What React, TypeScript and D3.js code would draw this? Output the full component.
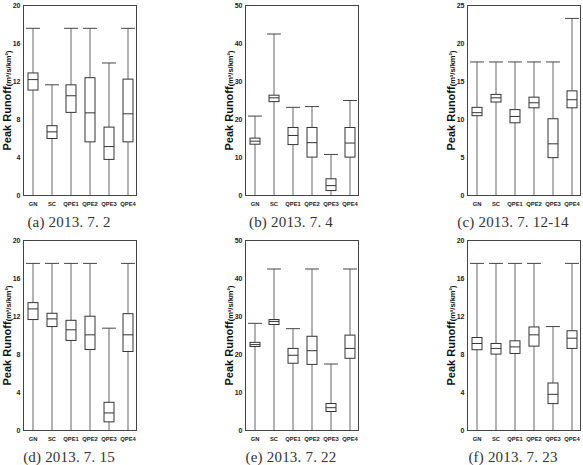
import React from 'react'
import * as d3 from 'd3'

// box stats per category: [low, q1, median, q3, high]
const categories = ['GN', 'SC', 'QPE1', 'QPE2', 'QPE3', 'QPE4']

const statsA = [[0, 11.1, 12.2, 12.9, 17.6], [0, 6.0, 6.7, 7.35, 11.65], [0, 8.75, 10.5, 11.65, 17.6],
  [0, 5.65, 8.7, 12.4, 17.6], [0, 3.8, 5.15, 7.2, 13.95], [0, 5.65, 8.6, 12.25, 17.6]]
const statsB = [[0, 13.5, 14.3, 15.1, 20.9], [0, 24.7, 25.7, 26.4, 42.5], [0, 13.4, 15.8, 17.9, 23.2],
  [0, 10.1, 13.9, 17.9, 23.4], [0, 1.3, 2.6, 4.4, 10.8], [0, 10.1, 13.8, 17.9, 25.0]]
const statsC = [[0, 10.5, 10.9, 11.6, 17.57], [0, 12.3, 12.85, 13.3, 17.57], [0, 9.57, 10.4, 11.3, 17.57],
  [0, 11.54, 12.2, 12.94, 17.57], [0, 4.98, 6.8, 10.1, 17.57], [0, 11.54, 12.6, 13.77, 23.3]]
const statsD = [[0, 11.68, 12.8, 13.46, 17.59], [0, 10.94, 11.75, 12.34, 17.59], [0, 9.48, 10.6, 11.6, 17.59],
  [0, 8.53, 10.07, 12.03, 17.59], [0, 0.91, 1.85, 2.97, 10.77], [0, 8.32, 10.07, 12.3, 17.59]]
const statsE = [[0, 22.1, 22.6, 23.2, 28.2], [0, 27.9, 28.7, 29.2, 42.5], [0, 17.7, 19.8, 21.6, 26.8],
  [0, 17.4, 21.0, 24.8, 42.5], [0, 5.0, 6.0, 7.1, 17.5], [0, 19.0, 21.6, 25.1, 42.5]]
const statsF = [[0, 8.5, 9.16, 9.79, 17.59], [0, 8.04, 8.64, 9.16, 17.59], [0, 8.11, 8.8, 9.44, 17.59],
  [0, 8.88, 10.07, 10.9, 17.59], [0, 2.83, 3.81, 5.0, 10.94], [0, 8.64, 9.72, 10.5, 17.59]]

const ticks20 = [0, 4, 8, 12, 16, 20]
const ticks50 = [0, 10, 20, 30, 40, 50]
const ticks25 = [0, 5, 10, 15, 20, 25]

const panels = [
  { stats: statsA, ticks: ticks20, caption: '(a) 2013. 7. 2' },
  { stats: statsB, ticks: ticks50, caption: '(b) 2013. 7. 4' },
  { stats: statsC, ticks: ticks25, caption: '(c) 2013. 7. 12-14' },
  { stats: statsD, ticks: ticks20, caption: '(d) 2013. 7. 15' },
  { stats: statsE, ticks: ticks50, caption: '(e) 2013. 7. 22' },
  { stats: statsF, ticks: ticks20, caption: '(f) 2013. 7. 23' },
]

const colLeft = [23.5, 245.5, 467.5]
const rowTop = [5.5, 240.5]
const frameW = 113
const frameH = 190

function BoxPanel({ p, left, top }) {
  const x = d3.scaleBand().domain(categories).range([0, frameW])
  const y = d3.scaleLinear().domain([0, d3.max(p.ticks)]).range([frameH, 0])
  const bw = x.bandwidth()
  const boxW = bw * 0.53
  const capW = bw * 0.74
  return (
    <g transform={`translate(${left},${top})`}>
      {p.stats.map((s, i) => {
        const cx = Math.round(x(categories[i]) + bw / 2) + 0.5
        const [lo, q1, med, q3, hi] = s
        return (
          <g key={i}>
            <line x1={cx} x2={cx} y1={y(hi)} y2={y(q3)} stroke="#666" />
            <line x1={cx} x2={cx} y1={y(q1)} y2={y(lo)} stroke="#666" />
            <line x1={cx - capW / 2} x2={cx + capW / 2} y1={y(hi)} y2={y(hi)} stroke="#444" />
            <line x1={cx - capW / 2} x2={cx + capW / 2} y1={y(lo)} y2={y(lo)} stroke="#444" />
            <rect x={cx - boxW / 2} y={y(q3)} width={boxW} height={y(q1) - y(q3)}
              fill="white" stroke="#333" />
            <line x1={cx - boxW / 2} x2={cx + boxW / 2} y1={y(med)} y2={y(med)} stroke="#333" />
            <text x={cx} y={frameH + 10} textAnchor="middle" fontSize={5.8}
              fontWeight="bold" fontFamily="Liberation Sans, Arial, sans-serif" fill="#222">
              {categories[i]}
            </text>
          </g>
        )
      })}
      <rect x={0} y={0} width={frameW} height={frameH} fill="none" stroke="#444" />
      {p.ticks.map(t => (
        <text key={t} x={-3} y={y(t) + 2.3} textAnchor="end" fontSize={7} fontWeight="bold"
          fontFamily="Liberation Sans, Arial, sans-serif" fill="#222">{t}</text>
      ))}
      <text transform={`translate(-13,${frameH / 2}) rotate(-90)`} textAnchor="middle"
        fontWeight="bold" fontFamily="Liberation Sans, Arial, sans-serif" fill="#111">
        <tspan fontSize={11}>Peak Runoff</tspan>
        <tspan fontSize={7.5}>(m³/s/km²)</tspan>
      </text>
      <text x={frameW / 2 - 11} y={frameH + 31} textAnchor="middle" fontSize={15}
        letterSpacing={0.2} fontFamily="Liberation Serif, DejaVu Serif, serif" fill="#333">
        {p.caption}
      </text>
    </g>
  )
}

export default function App() {
  return (
    <svg width={583} height={465} style={{ position: 'absolute', left: 0, top: 0, background: 'white' }}>
      {panels.map((p, i) => (
        <BoxPanel key={i} p={p} left={colLeft[i % 3]} top={rowTop[Math.floor(i / 3)]} />
      ))}
    </svg>
  )
}
